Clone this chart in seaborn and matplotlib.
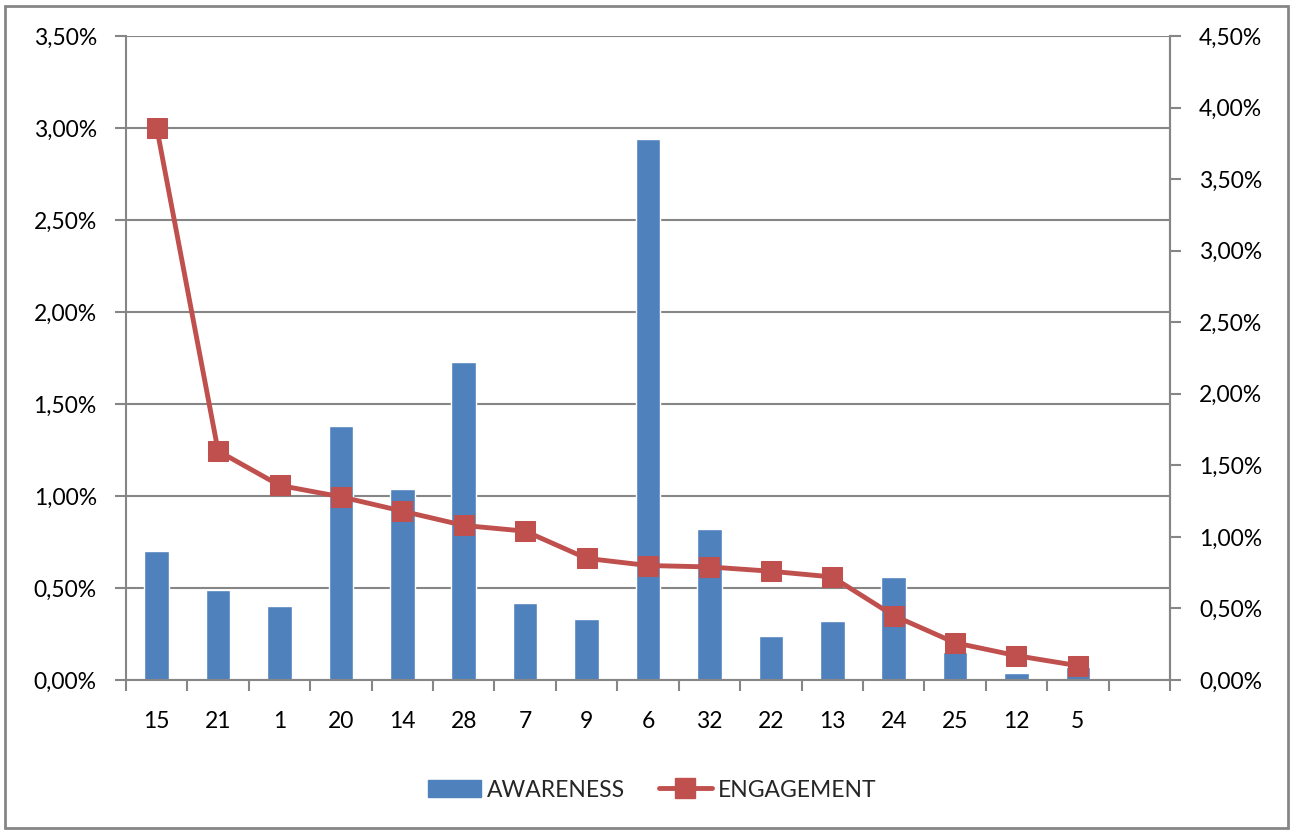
import numpy as np
import pandas as pd
import matplotlib
matplotlib.use("Agg")
import matplotlib.pyplot as plt
from matplotlib.ticker import FuncFormatter, FixedLocator, NullFormatter
from matplotlib.lines import Line2D
from matplotlib.patches import Patch, Rectangle
import seaborn as sns

# Category labels (ordered by engagement, descending)
categories = ["15", "21", "1", "20", "14", "28", "7", "9", "6", "32", "22", "13", "24", "25", "12", "5"]
# Awareness rate, in percent (left axis)
awareness = [0.70, 0.49, 0.40, 1.38, 1.04, 1.73, 0.42, 0.33, 2.94, 0.82, 0.24, 0.32, 0.56, 0.15, 0.04, 0.07]
# Engagement rate, in percent (right axis)
engagement = [3.86, 1.60, 1.36, 1.28, 1.18, 1.08, 1.04, 0.85, 0.80, 0.79, 0.76, 0.72, 0.45, 0.26, 0.17, 0.10]

BLUE = "#4F81BD"
RED = "#C0504D"
GRAY = "#868686"
FS = 16.5

sns.set_theme(style="white")
plt.rcParams["font.family"] = ["Lato", "DejaVu Sans"]

df = pd.DataFrame({"cat": categories, "awareness": awareness, "engagement": engagement})
df["pos"] = np.arange(len(df))

pct = FuncFormatter(lambda v, p: f"{v:.2f}%".replace(".", ","))

fig = plt.figure(figsize=(12.92, 8.30), dpi=100)
ax = fig.add_axes([126 / 1292, 1 - 680 / 830, (1170 - 126) / 1292, (680 - 36) / 830])

sns.barplot(data=df, x="cat", y="awareness", order=categories, color=BLUE,
            width=0.4, saturation=1, ax=ax, zorder=2)
n_slots = len(categories) + 1
ax.set_xlim(-0.5, n_slots - 0.5)
ax.set_ylim(0, 3.5)
ax.set_yticks(np.arange(0, 3.51, 0.5))
ax.yaxis.set_major_formatter(pct)
ax.grid(axis="y", color=GRAY, linewidth=1.5, zorder=0)
ax.grid(axis="x", visible=False)
ax.set_axisbelow(True)

# Category boundary ticks on x, labels at centers
ax.xaxis.set_major_locator(FixedLocator(np.arange(-0.5, n_slots, 1.0)))
ax.xaxis.set_major_formatter(NullFormatter())
ax.xaxis.set_minor_locator(FixedLocator(np.arange(len(categories))))
ax.set_xticklabels(categories, minor=True)
ax.tick_params(axis="x", which="major", direction="out", length=8, width=1.5, color=GRAY, bottom=True)
ax.tick_params(axis="x", which="minor", length=0, pad=22, labelsize=FS, labelcolor="black")
ax.tick_params(axis="y", direction="out", length=8, width=1.5, color=GRAY, left=True,
               labelsize=FS, labelcolor="black", pad=13)
ax.set_xlabel("")
ax.set_ylabel("")

for side in ["left", "bottom", "right"]:
    ax.spines[side].set_color(GRAY)
    ax.spines[side].set_linewidth(1.5)
ax.spines["top"].set_visible(False)

ax2 = ax.twinx()
sns.lineplot(data=df, x="pos", y="engagement", sort=False, color=RED, linewidth=3.5,
             marker="s", markersize=14, markeredgecolor=RED, ax=ax2, zorder=3)
ax2.set_ylim(0, 4.5)
ax2.set_yticks(np.arange(0, 4.51, 0.5))
ax2.yaxis.set_major_formatter(pct)
ax2.tick_params(axis="y", direction="out", length=8, width=1.5, color=GRAY, right=True,
                labelsize=FS, labelcolor="black", pad=13)
ax2.grid(False)
ax2.set_ylabel("")
ax2.set_xlabel("")
for side in ["left", "bottom", "top"]:
    ax2.spines[side].set_visible(False)
ax2.spines["right"].set_color(GRAY)
ax2.spines["right"].set_linewidth(1.5)
ax2.set_xlim(-0.5, n_slots - 0.5)

handles = [Patch(facecolor=BLUE, edgecolor=BLUE),
           Line2D([], [], color=RED, linewidth=3.5, marker="s", markersize=14)]
fig.legend(handles, ["AWARENESS", "ENGAGEMENT"], loc="center", bbox_to_anchor=(652 / 1292, 1 - 790 / 830),
           ncol=2, frameon=False, fontsize=FS, handlelength=2.3, handleheight=0.7,
           columnspacing=1.5, handletextpad=0.25)

# Chart border
fig.patches.append(Rectangle((5 / 1292, 2 / 830), 1283 / 1292, 822 / 830, transform=fig.transFigure,
                             fill=False, edgecolor=GRAY, linewidth=2))

fig.savefig("out.png", dpi=100)
